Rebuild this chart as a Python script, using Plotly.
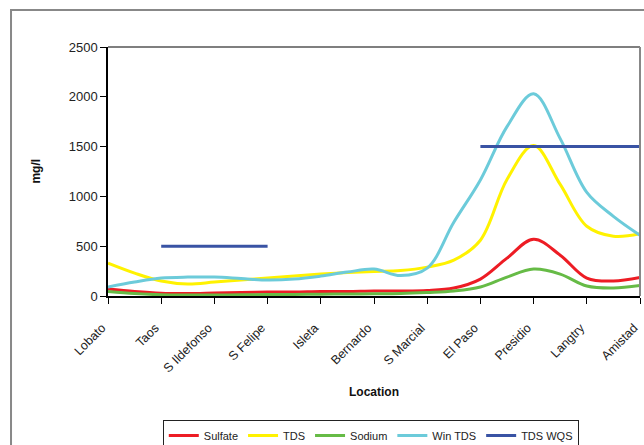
import plotly.graph_objects as go

# Category labels (tick positions 0..10)
locations = ["Lobato", "Taos", "S Ildefonso", "S Felipe", "Isleta", "Bernardo",
             "S Marcial", "El Paso", "Presidio", "Langtry", "Amistad"]
tick_pos = [0, 1, 2, 3, 4, 5, 6, 7, 8, 9, 10]

# Sample positions along the river (half-steps between labelled stations)
sample_pos = [0, 0.5, 1, 1.5, 2, 2.5, 3, 3.5, 4, 4.5, 5, 5.5, 6, 6.5, 7, 7.5, 8, 8.5, 9, 9.5, 10]

sulfate = [70, 45, 28, 25, 30, 35, 40, 40, 45, 45, 50, 50, 55, 80, 170, 380, 570, 410, 180, 150, 185]
tds     = [330, 230, 150, 120, 140, 160, 180, 200, 220, 235, 245, 255, 290, 360, 560, 1170, 1510, 1120, 700, 600, 625]
sodium  = [45, 25, 12, 10, 10, 12, 14, 16, 18, 20, 22, 25, 35, 50, 90, 190, 270, 220, 100, 80, 105]
win_tds = [90, 140, 180, 190, 190, 175, 160, 170, 200, 240, 270, 205, 280, 740, 1165, 1700, 2030, 1580, 1040, 800, 610]

# TDS water quality standard segments
wqs_x = [1, 3, None, 7, 10]
wqs_y = [500, 500, None, 1500, 1500]

FONT = "Liberation Sans Narrow, Arial Narrow, Liberation Sans, Arial, sans-serif"

fig = go.Figure()
series = [
    ("Sulfate", sulfate, "#ED1C24"),
    ("TDS", tds, "#FFF200"),
    ("Sodium", sodium, "#66BB46"),
    ("Win TDS", win_tds, "#6CCBDA"),
]
for name, vals, col in series:
    fig.add_trace(go.Scatter(x=sample_pos, y=vals, name=name, mode="lines",
                             line=dict(color=col, width=3, shape="spline", smoothing=1.0)))
fig.add_trace(go.Scatter(x=wqs_x, y=wqs_y, name="TDS WQS", mode="lines",
                         line=dict(color="#3953A4", width=3), connectgaps=False))

fig.update_layout(
    width=644, height=445,
    margin=dict(l=108, r=4, t=47, b=149, autoexpand=False),
    paper_bgcolor="white", plot_bgcolor="white",
    font=dict(family=FONT, size=12, color="#222"),
    showlegend=True,
    legend=dict(orientation="h", x=0.103, y=-0.498, xanchor="left", yanchor="top",
                bordercolor="#222", borderwidth=1, font=dict(size=11, color="#222"),
                bgcolor="white", tracegroupgap=0),
    xaxis=dict(range=[0, 10], tickmode="array", tickvals=tick_pos, ticktext=locations,
               tickangle=-45, showgrid=False, zeroline=False, showline=True, automargin=False,
               ticklabeloverflow="allow", ticklabelstandoff=12, ticklabelshift=-6,
               linecolor="black", linewidth=1.5, ticks="outside", ticklen=6,
               tickcolor="black", tickfont=dict(size=12.5, color="#222")),
    yaxis=dict(range=[0, 2500], dtick=500, showgrid=False, zeroline=False, showline=True,
               automargin=False, ticklabeloverflow="allow",
               linecolor="black", linewidth=1.5, ticks="outside", ticklen=6,
               tickcolor="black", tickfont=dict(size=13, color="#222")),
    annotations=[
        dict(text="<b>mg/l</b>", x=-0.137, y=0.5, xref="paper", yref="paper",
             xanchor="center", yanchor="middle",
             textangle=-90, showarrow=False, font=dict(size=12, color="#111")),
        dict(text="<b>Location</b>", x=0.5, y=-0.3855, xref="paper", yref="paper",
             xanchor="center", yanchor="middle",
             showarrow=False, font=dict(size=12, color="#111")),
    ],
    shapes=[
        # outer chart frame
        dict(type="rect", xref="paper", yref="paper", x0=-0.1823, x1=1.03, y0=-0.70, y1=1.1486,
             line=dict(color="#888", width=2), layer="below"),
        # plot-area top and right borders
        dict(type="line", xref="paper", yref="paper", x0=0, x1=1, y0=1, y1=1,
             line=dict(color="#555", width=1.5)),
        dict(type="line", xref="paper", yref="paper", x0=1, x1=1, y0=0, y1=1,
             line=dict(color="#888", width=2)),
    ],
)

fig.write_html("out.html", config={"displayModeBar": False})

# remove the default page margin so the figure sits at the window's corner
with open("out.html", "r", encoding="utf-8") as f:
    html = f.read()
html = html.replace("<body>", '<body style="margin:0;overflow:hidden">', 1)
with open("out.html", "w", encoding="utf-8") as f:
    f.write(html)
